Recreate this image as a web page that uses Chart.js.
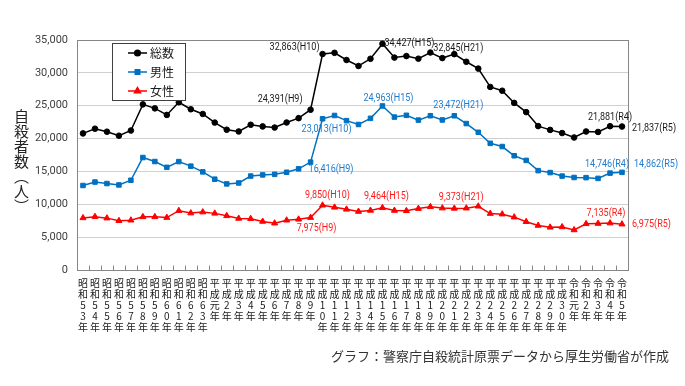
<!DOCTYPE html>
<html><head><meta charset="utf-8">
<script src="https://cdn.jsdelivr.net/npm/chart.js@4/dist/chart.umd.min.js"></script>
<style>
html,body{margin:0;padding:0;background:#fff;}
#wrap{position:relative;width:685px;height:386px;}
#ytitle{position:absolute;left:14px;top:109px;writing-mode:vertical-rl;font-family:'Noto Sans CJK JP';font-size:15px;color:#222;line-height:1;}
</style></head><body>
<div id="wrap"><canvas id="c" width="685" height="386"></canvas><div id="ytitle">自殺者数（人）</div></div>
<script>
const categories = ['昭和53年','昭和54年','昭和55年','昭和56年','昭和57年','昭和58年','昭和59年','昭和60年','昭和61年','昭和62年','昭和63年',
 '平成元年','平成2年','平成3年','平成4年','平成5年','平成6年','平成7年','平成8年','平成9年','平成10年',
 '平成11年','平成12年','平成13年','平成14年','平成15年','平成16年','平成17年','平成18年','平成19年','平成20年',
 '平成21年','平成22年','平成23年','平成24年','平成25年','平成26年','平成27年','平成28年','平成29年','平成30年',
 '令和元年','令和2年','令和3年','令和4年','令和5年'];
const seriesNames = ['総数','男性','女性'];
const totalSeries = [20788,21503,21048,20434,21228,25202,24596,23599,25524,24460,23742,22436,21346,21084,22104,21851,21679,22445,23104,24391,32863,33048,31957,31042,32143,34427,32325,32552,32155,33093,32249,32845,31690,30651,27858,27283,25427,24025,21897,21321,20840,20169,21081,21007,21881,21837];
const maleSeries = [12859,13386,13155,12942,13654,17116,16508,15624,16497,15802,14934,13818,13102,13242,14296,14468,14560,14874,15393,16416,23013,23512,22727,22144,23080,24963,23272,23540,22813,23478,22831,23472,22283,20955,19273,18787,17386,16681,15121,14826,14290,14078,14055,13939,14746,14862];
const femaleSeries = [7929,8117,7893,7492,7574,8086,8088,7975,9027,8658,8808,8618,8244,7842,7808,7383,7119,7571,7711,7975,9850,9536,9230,8898,9063,9464,9053,9012,9342,9615,9418,9373,9407,9696,8585,8496,8041,7344,6776,6495,6550,6091,7026,7068,7135,6975];
const yTicks = [0,5000,10000,15000,20000,25000,30000,35000];
const labeledIdx = [19,20,25,31,44,45];
const labeledTag = ['H9','H10','H15','H21','R4','R5'];
const credit = 'グラフ：警察庁自殺統計原票データから厚生労働省が作成';

const colors = ['#000000','#0070C0','#FF0000'];
const textColors = ['#1a1a1a','#1f7bd0','#ff1a1a'];
// label placement (dx, dy, align) per series per labeled point
const placement = [
  [[-8,-10,'right'],[-3,-7,'right'],[2,0,'left'],[4,-6,'center'],[0,-9,'center'],[10,2,'left']],
  [[-2,7,'left'],[4,11,'center'],[6,-8,'center'],[4,-10,'center'],[-3,-9,'center'],[12,-8,'left']],
  [[6,11,'center'],[5,-10,'center'],[4,-11,'center'],[7,-11,'center'],[-4,-10,'center'],[10,0,'left']]
];
const numFont = "'Roboto',sans-serif";
const jpFont = "'Noto Sans CJK JP',sans-serif";

const pointLabels = {
  id:'pointLabels',
  afterDatasetsDraw(chart){
    const ctx = chart.ctx;
    for (let d=0; d<3; d++){
      const meta = chart.getDatasetMeta(d);
      labeledIdx.forEach((idx,k)=>{
        const el = meta.data[idx];
        const v = chart.data.datasets[d].data[idx];
        const p = placement[d][k];
        ctx.save();
        ctx.font = "10.5px " + numFont;
        ctx.textBaseline = 'middle';
        ctx.fillStyle = textColors[d];
        ctx.textAlign = p[2];
        ctx.translate(el.x + p[0], el.y + p[1]);
        ctx.scale(0.86, 1);
        ctx.fillText(v.toLocaleString('en-US') + '(' + labeledTag[k] + ')', 0, 0);
        ctx.restore();
      });
    }
  }
};
const frame = {
  id:'frame',
  beforeDatasetsDraw(chart){
    const a = chart.chartArea, ctx = chart.ctx;
    ctx.save();
    ctx.strokeStyle = '#868686'; ctx.lineWidth = 1;
    ctx.strokeRect(Math.round(a.left)+0.5, Math.round(a.top)+0.5, Math.round(a.right-a.left), Math.round(a.bottom-a.top));
    // inward tick marks at category boundaries
    const xs = chart.scales.x, n = chart.data.labels.length;
    const w = (xs.right - xs.left) / n;
    const yb = Math.round(a.bottom) + 0.5;
    ctx.beginPath();
    for (let i=1; i<n; i++){
      const x = Math.round(xs.left + i*w) + 0.5;
      ctx.moveTo(x, yb); ctx.lineTo(x, yb-5);
    }
    ctx.stroke();
    ctx.restore();
  },
  afterDraw(chart){
    const ctx = chart.ctx;
    ctx.save();
    // legend
    const bx=112, by=43, bw=73, bh=57;
    ctx.fillStyle='#fff'; ctx.fillRect(bx,by,bw,bh);
    ctx.strokeStyle='#404040'; ctx.lineWidth=1; ctx.strokeRect(bx+0.5,by+0.5,bw,bh);
    const rows=[53,72,91];
    for (let d=0; d<3; d++){
      const ds = chart.data.datasets[d];
      const y = rows[d];
      ctx.strokeStyle=ds.borderColor; ctx.lineWidth=1.5;
      ctx.beginPath(); ctx.moveTo(128,y); ctx.lineTo(147,y); ctx.stroke();
      ctx.fillStyle=ds.backgroundColor; ctx.strokeStyle=ds.borderColor;
      Chart.helpers.drawPoint(ctx,{pointStyle:ds.pointStyle,radius:ds.pointRadius,borderWidth:1},137.5,y);
      ctx.fillStyle='#1a1a1a'; ctx.font="12px "+jpFont; ctx.textAlign='left'; ctx.textBaseline='middle';
      ctx.fillText(seriesNames[d],150,y);
    }
    // credit
    ctx.fillStyle='#333'; ctx.font="13px "+jpFont; ctx.textAlign='right'; ctx.textBaseline='middle';
    ctx.fillText(credit,669,356);
    ctx.restore();
  }
};

new Chart(document.getElementById('c'), {
  type:'line',
  data:{
    labels: categories.map(s=>Array.from(s)),
    datasets:[
      {label:seriesNames[0], data:totalSeries, borderColor:colors[0], backgroundColor:colors[0], pointStyle:'circle', pointRadius:2.8, borderWidth:1.5, pointBorderWidth:1},
      {label:seriesNames[1], data:maleSeries, borderColor:colors[1], backgroundColor:colors[1], pointStyle:'rect', pointRadius:3.2, borderWidth:1.5, pointBorderWidth:1},
      {label:seriesNames[2], data:femaleSeries, borderColor:colors[2], backgroundColor:colors[2], pointStyle:'triangle', pointRadius:3.5, borderWidth:1.5, pointBorderWidth:1}
    ]
  },
  options:{
    responsive:false, animation:false, devicePixelRatio:1,
    layout:{padding:{left:0,right:57,top:40,bottom:0}},
    plugins:{legend:{display:false}, tooltip:{enabled:false}},
    elements:{line:{tension:0}},
    scales:{
      x:{
        offset:true,
        grid:{display:false, drawTicks:false},
        border:{display:true,color:'#868686'},
        ticks:{autoSkip:false, maxRotation:0, minRotation:0, padding:8, color:'#1a1a1a', font:{family:jpFont,size:10,lineHeight:1.1}},
        afterFit(s){ s.height = 116; }
      },
      y:{
        min:0, max:35000,
        afterBuildTicks(s){ s.ticks = yTicks.map(v=>({value:v})); },
        grid:{color:'#d0d0d0', lineWidth:1, drawTicks:false},
        border:{display:true,color:'#868686'},
        ticks:{padding:9, color:'#404040', font:{family:numFont,size:11}, callback:v=>v.toLocaleString('en-US')},
        afterFit(s){ s.width = 77; }
      }
    }
  },
  plugins:[frame, pointLabels]
});
</script>
</body></html>
